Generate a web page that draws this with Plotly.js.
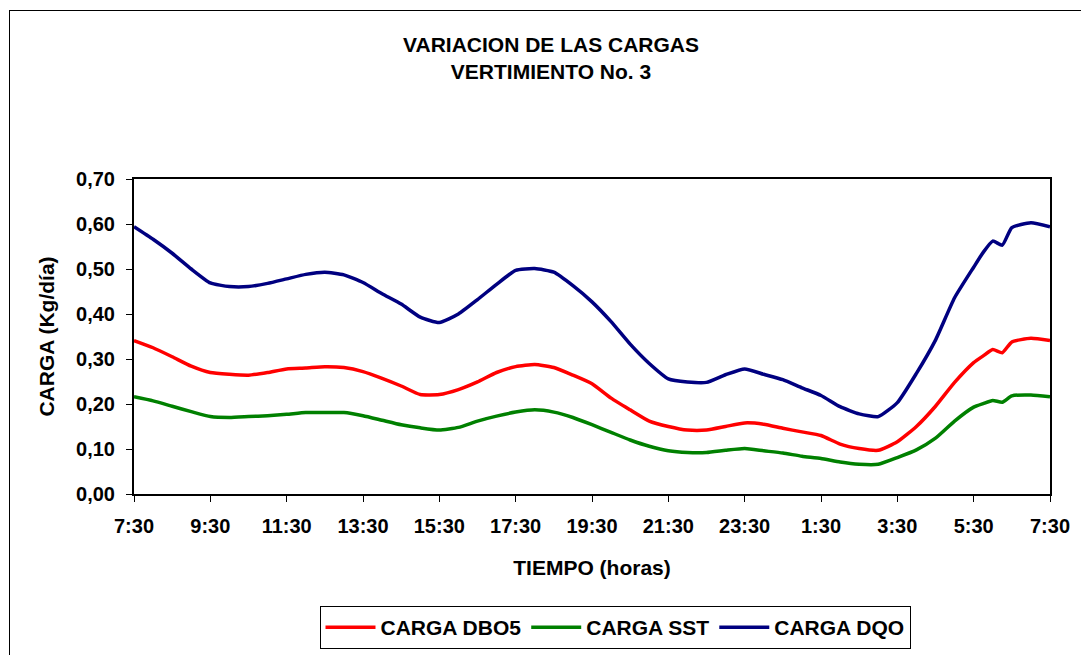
<!DOCTYPE html>
<html>
<head>
<meta charset="utf-8">
<script src="https://cdn.plot.ly/plotly-3.0.1.min.js"></script>
<style>
  html, body { margin: 0; padding: 0; background: #fff; overflow: hidden; }
  #chart { width: 1081px; height: 655px; }
  #frame { position: absolute; left: 9px; top: 10px; width: 1200px; height: 800px;
           border: 1px solid #000; pointer-events: none; }
</style>
</head>
<body>
<div id="chart"></div>
<div id="frame"></div>
<script>
// Hours elapsed since 7:30
const hours = [0, 0.5, 1, 1.5, 2, 2.5, 3, 3.5, 4, 4.5, 5, 5.5, 6, 6.5, 7, 7.5, 8, 8.5, 9, 9.5,
  10, 10.5, 11, 11.5, 12, 12.5, 13, 13.5, 14, 14.5, 15, 15.5, 16, 16.5, 17, 17.5, 18, 18.5,
  19, 19.5, 20, 20.5, 21, 21.5, 22, 22.25, 22.5, 22.75, 23, 23.5, 24];

const cargaDBO5 = [0.341, 0.325, 0.305, 0.284, 0.270, 0.266, 0.264, 0.270, 0.278, 0.280,
  0.283, 0.281, 0.272, 0.257, 0.240, 0.221, 0.221, 0.232, 0.249, 0.270,
  0.283, 0.288, 0.281, 0.264, 0.245, 0.213, 0.187, 0.162, 0.150, 0.142,
  0.142, 0.150, 0.158, 0.155, 0.146, 0.138, 0.130, 0.111, 0.101, 0.097,
  0.116, 0.150, 0.195, 0.248, 0.292, 0.307, 0.321, 0.314, 0.338, 0.346, 0.341];

const cargaSST = [0.216, 0.207, 0.195, 0.183, 0.172, 0.170, 0.172, 0.174, 0.177, 0.181,
  0.181, 0.181, 0.174, 0.164, 0.154, 0.147, 0.142, 0.148, 0.162, 0.173,
  0.182, 0.187, 0.182, 0.170, 0.154, 0.137, 0.120, 0.106, 0.096, 0.092,
  0.092, 0.097, 0.101, 0.096, 0.091, 0.084, 0.079, 0.071, 0.066, 0.066,
  0.081, 0.098, 0.124, 0.162, 0.193, 0.201, 0.208, 0.204, 0.218, 0.220, 0.216];

const cargaDQO = [0.594, 0.566, 0.535, 0.500, 0.469, 0.461, 0.461, 0.468, 0.478, 0.488,
  0.493, 0.487, 0.470, 0.445, 0.422, 0.393, 0.381, 0.400, 0.432, 0.466,
  0.497, 0.501, 0.493, 0.463, 0.427, 0.383, 0.333, 0.290, 0.256, 0.249,
  0.248, 0.265, 0.278, 0.266, 0.254, 0.236, 0.219, 0.194, 0.178, 0.172,
  0.203, 0.268, 0.342, 0.436, 0.504, 0.537, 0.562, 0.553, 0.592, 0.603, 0.594];

const tickHours = [0, 2, 4, 6, 8, 10, 12, 14, 16, 18, 20, 22, 24];
const tickLabels = ["7:30", "9:30", "11:30", "13:30", "15:30", "17:30", "19:30",
  "21:30", "23:30", "1:30", "3:30", "5:30", "7:30"];
const yTicks = [0, 0.1, 0.2, 0.3, 0.4, 0.5, 0.6, 0.7];

const FONT = "Liberation Sans, Arial, sans-serif";
const lineShape = { width: 3.5, shape: "spline", smoothing: 0.5 };

const traces = [
  { x: hours, y: cargaDBO5, name: "CARGA DBO5", type: "scatter", mode: "lines",
    line: Object.assign({ color: "#FF0000" }, lineShape) },
  { x: hours, y: cargaSST, name: "CARGA SST", type: "scatter", mode: "lines",
    line: Object.assign({ color: "#008000" }, lineShape) },
  { x: hours, y: cargaDQO, name: "CARGA DQO", type: "scatter", mode: "lines",
    line: Object.assign({ color: "#000080" }, lineShape) }
];

const layout = {
  width: 1081, height: 655,
  paper_bgcolor: "#ffffff", plot_bgcolor: "#ffffff",
  separators: ",.",
  font: { family: FONT, size: 20, color: "#000", weight: "bold" },
  margin: { l: 134, r: 31, t: 179, b: 161 },
  title: {
    text: "<b>VARIACION DE LAS CARGAS<br>VERTIMIENTO No. 3</b>",
    font: { family: FONT, size: 21, color: "#000" },
    x: 551 / 1081, xref: "container", xanchor: "center",
    y: 1 - 52 / 655, yref: "container", yanchor: "middle"
  },
  xaxis: {
    range: [0, 24], tickmode: "array", tickvals: tickHours, ticktext: tickLabels,
    showgrid: false, zeroline: false, showline: true, linecolor: "#000", linewidth: 2,
    mirror: true, ticks: "outside", ticklen: 6, tickcolor: "#000", tickwidth: 1,
    ticklabelstandoff: 7,
    tickfont: { family: FONT, size: 20, color: "#000", weight: "bold" },
    title: { text: "<b>TIEMPO (horas)</b>", font: { family: FONT, size: 21, color: "#000" }, standoff: 24 }
  },
  yaxis: {
    range: [0, 0.7], tickmode: "array", tickvals: yTicks, tickformat: ".2f",
    showgrid: false, zeroline: false, showline: true, linecolor: "#000", linewidth: 2,
    mirror: true, ticks: "outside", ticklen: 6, tickcolor: "#000", tickwidth: 1,
    ticklabelstandoff: 7,
    tickfont: { family: FONT, size: 20, color: "#000", weight: "bold" },
    title: { text: "<b>CARGA (Kg/día)</b>", font: { family: FONT, size: 21, color: "#000" }, standoff: 16 }
  },
  showlegend: true,
  legend: {
    orientation: "h", x: 615 / 1081, xref: "container", xanchor: "center",
    y: (655 - 606) / 655, yref: "container", yanchor: "top",
    bordercolor: "#000", borderwidth: 1, bgcolor: "#fff",
    font: { family: FONT, size: 21, color: "#000", weight: "bold" },
    traceorder: "normal", itemwidth: 50
  }
};

Plotly.newPlot("chart", traces, layout, { displayModeBar: false, staticPlot: true });
</script>
</body>
</html>
